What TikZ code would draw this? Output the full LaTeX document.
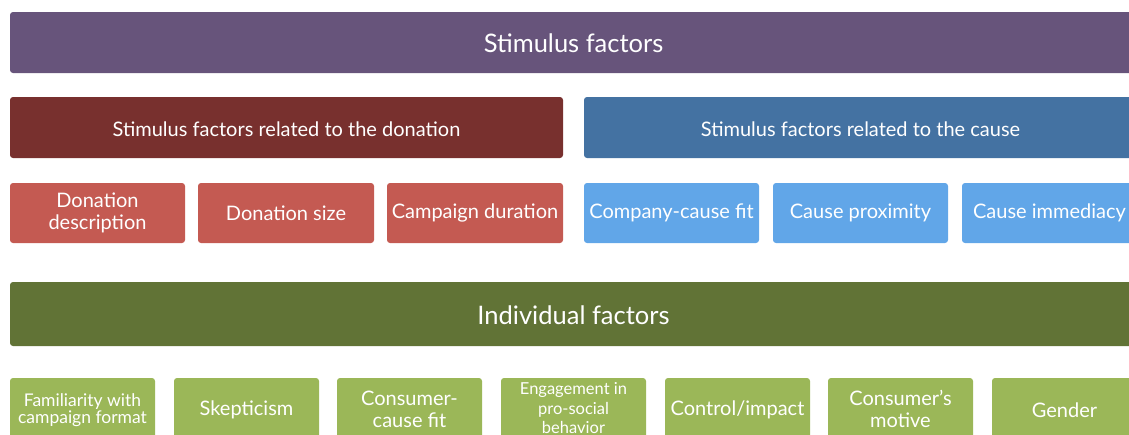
\documentclass[tikz,border=0pt]{standalone}
\usepackage{fontspec}
\setmainfont{Lato}
\definecolor{cpurple}{HTML}{67547B}
\definecolor{cdred}{HTML}{78302E}
\definecolor{cblue}{HTML}{4472A2}
\definecolor{cred}{HTML}{C45A52}
\definecolor{clblue}{HTML}{61A6E8}
\definecolor{cdgreen}{HTML}{617336}
\definecolor{cgreen}{HTML}{9BB758}
\begin{document}
\begin{tikzpicture}[x=1pt,y=-1pt,
  box/.style={rounded corners=3pt,draw=none},
  lbl/.style={text=white,align=center,inner sep=0pt,font=\fontsize{20}{22}\selectfont},
  big/.style={text=white,align=center,inner sep=0pt,font=\fontsize{25.5}{26}\selectfont}]
\useasboundingbox (0,0) rectangle (1129,434);
\clip (0,0) rectangle (1129,434);
% top bar
\fill[box,cpurple] (10,12) rectangle (1137,73);
\node[big] (t) at (573.5,43) {Stimulus factors};
% second row
\fill[box,cdred] (10,97) rectangle (563,158);
\node[lbl] (don) at (286.5,129) {Stimulus factors related to the donation};
\fill[box,cblue] (584,97) rectangle (1137,158);
\node[lbl] (cau) at (860.5,129) {Stimulus factors related to the cause};
% third row
\fill[box,cred] (10,183) rectangle (185,243);
\node[lbl] (d1) at (97.5,213) {Donation\\description};
\fill[box,cred] (198,183) rectangle (374,243);
\node[lbl] (d2) at (286,213) {Donation size};
\fill[box,cred] (387,183) rectangle (563,243);
\node[lbl] (d3) at (475,213) {Campaign duration};
\fill[box,clblue] (584,183) rectangle (759,243);
\node[lbl] (c1) at (671.5,213) {Company-cause fit};
\fill[box,clblue] (773,183) rectangle (948,243);
\node[lbl] (c2) at (860.5,213) {Cause proximity};
\fill[box,clblue] (962,183) rectangle (1137,243);
\node[lbl] (c3) at (1049.5,213) {Cause immediacy};
% individual factors
\fill[box,cdgreen] (10,282) rectangle (1137,346);
\node[big] (ind) at (573.5,315) {Individual factors};
% bottom row
\fill[box,cgreen] (10,378) rectangle (155,442);
\node[lbl,font=\fontsize{17.5}{17}\selectfont] (i1) at (82.5,410) {Familiarity with\\campaign format};
\fill[box,cgreen] (174,378) rectangle (319,442);
\node[lbl] (i2) at (246.5,410) {Skepticism};
\fill[box,cgreen] (337,378) rectangle (482,442);
\node[lbl] (i3) at (409.5,409) {Consumer-\\cause fit};
\fill[box,cgreen] (501,378) rectangle (646,442);
\node[lbl,font=\fontsize{16.5}{19.5}\selectfont] (i4) at (573.5,408.5) {Engagement in\\pro-social\\behavior};
\fill[box,cgreen] (665,378) rectangle (810,442);
\node[lbl] (i5) at (737.5,410) {Control/impact};
\fill[box,cgreen] (828,378) rectangle (973,442);
\node[lbl] (i6) at (900.5,409) {Consumer’s\\motive};
\fill[box,cgreen] (992,378) rectangle (1137,442);
\node[lbl] (i7) at (1064.5,410) {Gender};
\end{tikzpicture}
\end{document}
